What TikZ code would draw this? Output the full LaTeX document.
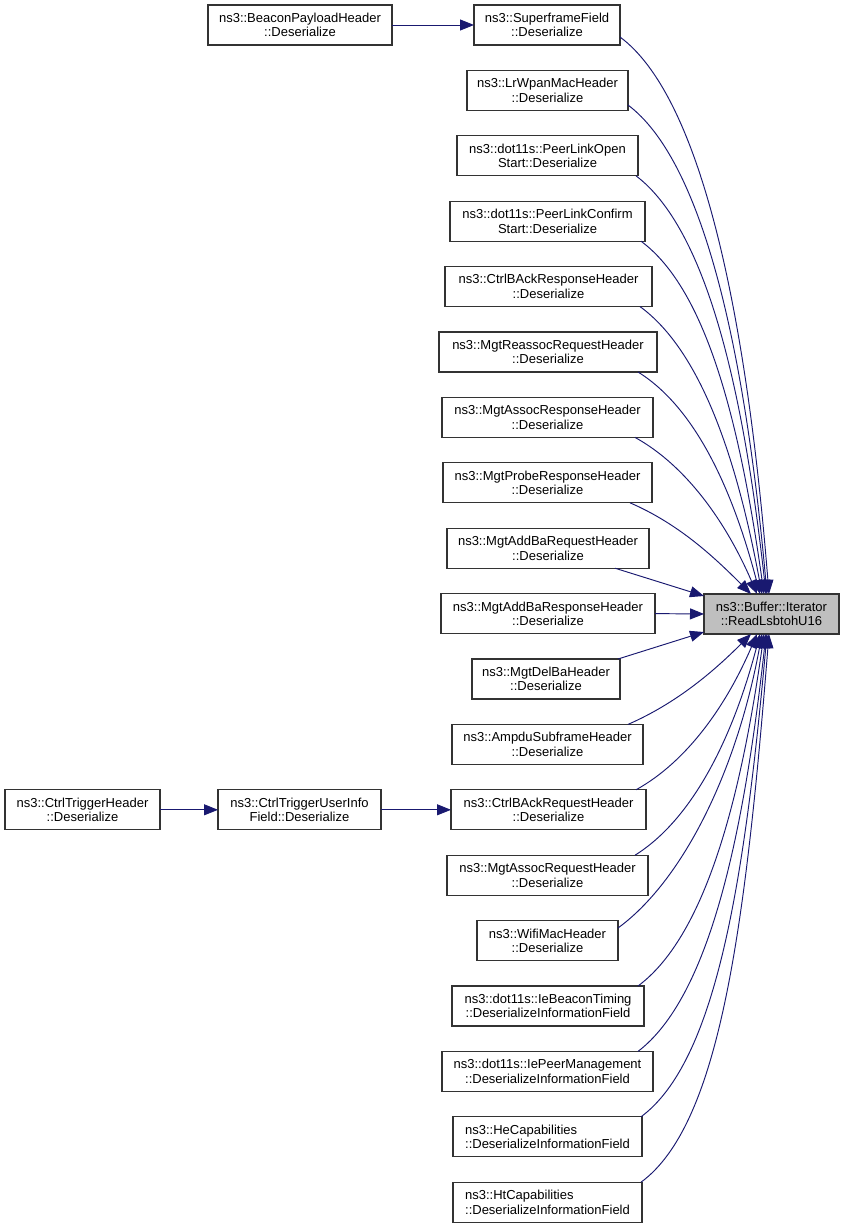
\documentclass[tikz,border=0pt]{standalone}
\usepackage{fontspec}
\setmainfont{Liberation Sans}
\usetikzlibrary{arrows.meta}
\definecolor{edgeblue}{HTML}{191970}
\definecolor{boxline}{HTML}{333333}
\definecolor{hlfill}{HTML}{BFBFBF}
\begin{document}
\begin{tikzpicture}[x=1pt,y=-1pt,
  fn/.style={draw=boxline, line width=1.1pt, fill=white, anchor=north west, inner sep=0pt,
    outer sep=0pt, align=center, minimum height=40, font=\fontsize{13}{14.5}\selectfont},
  fnleft/.style={fn, align=left},
  hl/.style={fn, fill=hlfill},
  edge/.style={draw=edgeblue, line width=0.95pt, -{Triangle[length=14pt,width=11pt]}}]
\useasboundingbox (0,0) rectangle (844,1228);
% target
\node[hl, minimum width=135] (t) at (704,594) {ns3::Buffer::Iterator\\::ReadLsbtohU16};
% callers
\node[fn, minimum width=184] (b) at (208,5) {ns3::BeaconPayloadHeader\\::Deserialize};
\node[fn, minimum width=146] (s1) at (474,5) {ns3::SuperframeField\\::Deserialize};
\node[fn, minimum width=161] (s2) at (467,70.4) {ns3::LrWpanMacHeader\\::Deserialize};
\node[fn, minimum width=181] (s3) at (457,135.8) {ns3::dot11s::PeerLinkOpen\\Start::Deserialize};
\node[fn, minimum width=195] (s4) at (450,201.2) {ns3::dot11s::PeerLinkConfirm\\Start::Deserialize};
\node[fn, minimum width=207] (s5) at (445,266.6) {ns3::CtrlBAckResponseHeader\\::Deserialize};
\node[fn, minimum width=218] (s6) at (439,332) {ns3::MgtReassocRequestHeader\\::Deserialize};
\node[fn, minimum width=211] (s7) at (442,397.4) {ns3::MgtAssocResponseHeader\\::Deserialize};
\node[fn, minimum width=209] (s8) at (443,462.8) {ns3::MgtProbeResponseHeader\\::Deserialize};
\node[fn, minimum width=202] (s9) at (447,528.2) {ns3::MgtAddBaRequestHeader\\::Deserialize};
\node[fn, minimum width=214] (s10) at (441,593.6) {ns3::MgtAddBaResponseHeader\\::Deserialize};
\node[fn, minimum width=148] (s11) at (472,659) {ns3::MgtDelBaHeader\\::Deserialize};
\node[fn, minimum width=191] (s12) at (452,724.4) {ns3::AmpduSubframeHeader\\::Deserialize};
\node[fn, minimum width=195] (s13) at (451,789.8) {ns3::CtrlBAckRequestHeader\\::Deserialize};
\node[fn, minimum width=163] (c2) at (218,789.8) {ns3::CtrlTriggerUserInfo\\Field::Deserialize};
\node[fn, minimum width=155] (c1) at (5,789.8) {ns3::CtrlTriggerHeader\\::Deserialize};
\node[fn, minimum width=201] (s14) at (447,855.2) {ns3::MgtAssocRequestHeader\\::Deserialize};
\node[fn, minimum width=141] (s15) at (477,920.6) {ns3::WifiMacHeader\\::Deserialize};
\node[fn, minimum width=192] (s16) at (452,986) {ns3::dot11s::IeBeaconTiming\\::DeserializeInformationField};
\node[fn, minimum width=211] (s17) at (442,1051.4) {ns3::dot11s::IePeerManagement\\::DeserializeInformationField};
\node[fnleft, minimum width=189] (s18) at (453,1116.8) {ns3::HeCapabilities\\::DeserializeInformationField};
\node[fnleft, minimum width=189] (s19) at (453,1182.2) {ns3::HtCapabilities\\::DeserializeInformationField};
% straight edges
\draw[edge] (b.east) -- (s1.west);
\draw[edge] (c1.east) -- (c2.west);
\draw[edge] (c2.east) -- (s13.west);
\draw[edge] (s10.east) -- (t.west);
\draw[edge] ([xshift=-34pt]s9.south east) -- ([yshift=-2pt]t.north west);
\draw[edge] ([xshift=-2pt]s11.north east) -- ([yshift=2pt]t.south west);
% curved edges into the top
\draw[edge] ([yshift=-12pt]s1.east) .. controls (697,94) and (745,294) .. ([xshift=65pt]t.north west);
\draw[edge] ([yshift=-14.6pt]s2.east) .. controls (701,160) and (744,340) .. ([xshift=63pt]t.north west);
\draw[edge] ([xshift=-2pt]s3.south east) .. controls (706,229) and (743,386) .. ([xshift=62pt]t.north west);
\draw[edge] ([xshift=-4pt]s4.south east) .. controls (707,290) and (740,424) .. ([xshift=60pt]t.north west);
\draw[edge] ([xshift=-12pt]s5.south east) .. controls (701,351) and (737,459) .. ([xshift=58pt]t.north west);
\draw[edge] ([xshift=-19pt]s6.south east) .. controls (696,408) and (733,491) .. ([xshift=56pt]t.north west);
\draw[edge] ([xshift=-18pt]s7.south east) .. controls (687,466) and (727,524) .. ([xshift=53pt]t.north west);
\draw[edge] ([xshift=-22pt]s8.south east) .. controls (679,524) and (714,557) .. ([xshift=47pt]t.north west);
% curved edges into the bottom
\draw[edge] ([xshift=-15pt]s12.north east) .. controls (677,703) and (714,671) .. ([xshift=47pt]t.south west);
\draw[edge] ([xshift=-10pt]s13.north east) .. controls (688,761) and (727,704) .. ([xshift=53pt]t.south west);
\draw[edge] ([xshift=-13pt]s14.north east) .. controls (693,819) and (733,737) .. ([xshift=56pt]t.south west);
\draw[edge] ([yshift=12.6pt]s15.east) .. controls (681,882) and (736,775) .. ([xshift=58pt]t.south west);
\draw[edge] ([xshift=-6pt]s16.north east) .. controls (704,937) and (740,804) .. ([xshift=60pt]t.south west);
\draw[edge] ([xshift=-15pt]s17.north east) .. controls (708,998) and (743,842) .. ([xshift=62pt]t.south west);
\draw[edge] ([xshift=-1pt]s18.north east) .. controls (715,1062) and (744,888) .. ([xshift=63pt]t.south west);
\draw[edge] ([xshift=-1pt]s19.north east) .. controls (719,1125) and (745,934) .. ([xshift=65pt]t.south west);
\end{tikzpicture}
\end{document}
